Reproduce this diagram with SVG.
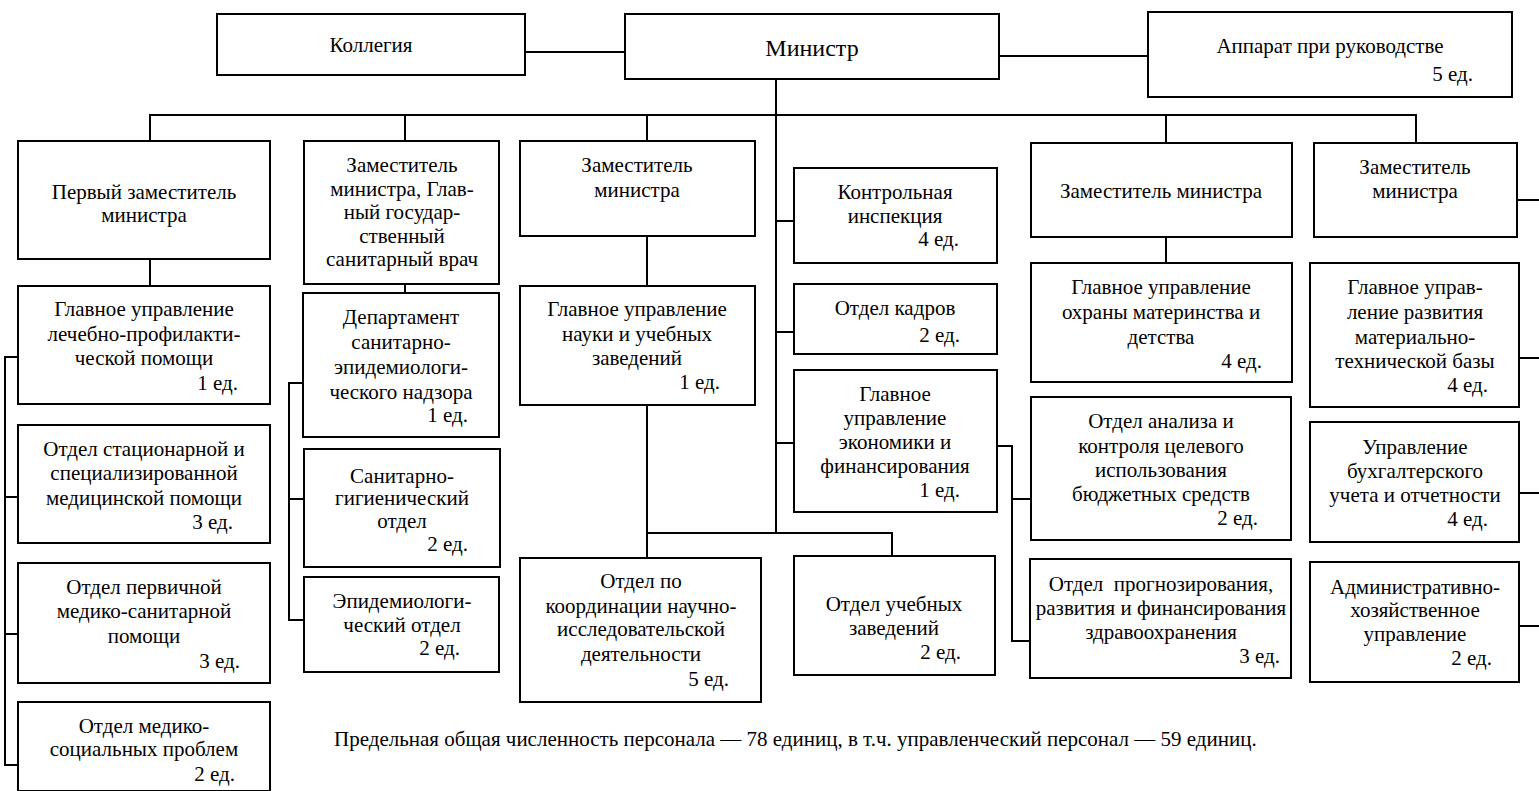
<svg xmlns="http://www.w3.org/2000/svg" width="1539" height="791" viewBox="0 0 1539 791">
<style>
rect{fill:#fff;stroke:#000;stroke-width:2}
text{font-family:"Liberation Serif","Times New Roman","DejaVu Serif",serif;font-size:21px;fill:#000;text-anchor:middle}
text.e{text-anchor:end}
text.s{text-anchor:start}
#connectors line{stroke:#000;stroke-width:2}
</style>
<rect x="0" y="0" width="1539" height="791" style="fill:#fff;stroke:none"/>
<g id="connectors">
<line x1="525" y1="52" x2="625" y2="52"/>
<line x1="999" y1="56" x2="1148" y2="56"/>
<line x1="776" y1="79" x2="776" y2="534"/>
<line x1="149" y1="115" x2="1417" y2="115"/>
<line x1="150" y1="115" x2="150" y2="141"/>
<line x1="405" y1="115" x2="405" y2="141"/>
<line x1="647" y1="115" x2="647" y2="141"/>
<line x1="1166" y1="115" x2="1166" y2="143"/>
<line x1="1416" y1="115" x2="1416" y2="143"/>
<line x1="150" y1="259" x2="150" y2="286"/>
<line x1="405" y1="284" x2="405" y2="293"/>
<line x1="647" y1="236" x2="647" y2="286"/>
<line x1="1166" y1="237" x2="1166" y2="263"/>
<line x1="5" y1="356" x2="5" y2="766"/>
<line x1="4" y1="357" x2="18" y2="357"/>
<line x1="4" y1="497" x2="18" y2="497"/>
<line x1="4" y1="634" x2="18" y2="634"/>
<line x1="4" y1="765" x2="18" y2="765"/>
<line x1="289" y1="382" x2="289" y2="621"/>
<line x1="288" y1="383" x2="303" y2="383"/>
<line x1="288" y1="499" x2="304" y2="499"/>
<line x1="288" y1="620" x2="304" y2="620"/>
<line x1="647" y1="405" x2="647" y2="558"/>
<line x1="646" y1="533" x2="893" y2="533"/>
<line x1="892" y1="533" x2="892" y2="556"/>
<line x1="776" y1="221" x2="794" y2="221"/>
<line x1="776" y1="332" x2="794" y2="332"/>
<line x1="776" y1="443" x2="794" y2="443"/>
<line x1="997" y1="446" x2="1013" y2="446"/>
<line x1="1012" y1="445" x2="1012" y2="642"/>
<line x1="1011" y1="499" x2="1031" y2="499"/>
<line x1="1011" y1="641" x2="1030" y2="641"/>
<line x1="1517" y1="200" x2="1539" y2="200"/>
<line x1="1519" y1="358" x2="1539" y2="358"/>
<line x1="1519" y1="493" x2="1539" y2="493"/>
<line x1="1519" y1="626" x2="1539" y2="626"/>
</g>
<g id="kollegia"><rect x="217" y="14" width="308" height="61"/><text x="371" y="52">Коллегия</text></g>
<g id="ministr"><rect x="625" y="14" width="374" height="65"/><text x="812" y="56" style="font-size:24px">Министр</text></g>
<g id="apparat"><rect x="1148" y="12" width="364" height="85"/><text x="1330" y="53">Аппарат при руководстве</text><text class="e" x="1473" y="81">5 ед.</text></g>
<g id="first-deputy"><rect x="18" y="141" width="252" height="118"/><text x="144" y="199">Первый заместитель</text><text x="144" y="222">министра</text></g>
<g id="deputy-sanitary"><rect x="304" y="141" width="195" height="143"/><text x="402" y="172">Заместитель</text><text x="402" y="195.5">министра, Глав-</text><text x="402" y="219">ный государ-</text><text x="402" y="242.5">ственный</text><text x="402" y="266">санитарный врач</text></g>
<g id="deputy-science"><rect x="520" y="141" width="235" height="95"/><text x="637" y="172">Заместитель</text><text x="637" y="197">министра</text></g>
<g id="control"><rect x="794" y="168" width="203" height="95"/><text x="895" y="199">Контрольная</text><text x="895" y="223">инспекция</text><text class="e" x="959" y="246">4 ед.</text></g>
<g id="deputy-maternity"><rect x="1031" y="143" width="261" height="94"/><text x="1161" y="198">Заместитель министра</text></g>
<g id="deputy-material"><rect x="1314" y="143" width="203" height="94"/><text x="1415" y="174">Заместитель</text><text x="1415" y="198">министра</text></g>
<g id="gu-lech"><rect x="18" y="286" width="252" height="118"/><text x="144" y="316">Главное управление</text><text x="144" y="341">лечебно-профилакти-</text><text x="144" y="365">ческой помощи</text><text class="e" x="238" y="390">1 ед.</text></g>
<g id="otd-stac"><rect x="18" y="425" width="252" height="118"/><text x="144" y="456">Отдел стационарной и</text><text x="144" y="480">специализированной</text><text x="144" y="505">медицинской помощи</text><text class="e" x="233" y="529">3 ед.</text></g>
<g id="otd-perv"><rect x="18" y="563" width="252" height="120"/><text x="144" y="594">Отдел первичной</text><text x="144" y="618">медико-санитарной</text><text x="144" y="643">помощи</text><text class="e" x="240" y="668">3 ед.</text></g>
<g id="otd-medsoc"><rect x="18" y="702" width="252" height="89"/><text x="144" y="733">Отдел медико-</text><text x="144" y="756">социальных проблем</text><text class="e" x="235" y="781">2 ед.</text></g>
<g id="dep-san"><rect x="303" y="293" width="196" height="144"/><text x="401" y="324">Департамент</text><text x="401" y="349">санитарно-</text><text x="401" y="374">эпидемиологи-</text><text x="401" y="399">ческого надзора</text><text class="e" x="468" y="422">1 ед.</text></g>
<g id="san-gig"><rect x="304" y="449" width="196" height="118"/><text x="402" y="483">Санитарно-</text><text x="402" y="505">гигиенический</text><text x="402" y="528">отдел</text><text class="e" x="468" y="551">2 ед.</text></g>
<g id="epid"><rect x="304" y="577" width="195" height="95"/><text x="402" y="608">Эпидемиологи-</text><text x="402" y="632">ческий отдел</text><text class="e" x="460" y="655">2 ед.</text></g>
<g id="gu-nauki"><rect x="520" y="286" width="235" height="119"/><text x="637" y="316">Главное управление</text><text x="637" y="341">науки и учебных</text><text x="637" y="365">заведений</text><text class="e" x="720" y="389">1 ед.</text></g>
<g id="otd-koord"><rect x="520" y="558" width="241" height="144"/><text x="641" y="588">Отдел по</text><text x="641" y="613">координации научно-</text><text x="641" y="636">исследовательской</text><text x="641" y="661">деятельности</text><text class="e" x="729" y="686">5 ед.</text></g>
<g id="otd-ucheb"><rect x="794" y="556" width="201" height="119"/><text x="894" y="611">Отдел учебных</text><text x="894" y="635">заведений</text><text class="e" x="961" y="659">2 ед.</text></g>
<g id="otd-kadrov"><rect x="794" y="284" width="203" height="70"/><text x="895" y="315">Отдел кадров</text><text class="e" x="960" y="342">2 ед.</text></g>
<g id="gu-econ"><rect x="794" y="370" width="203" height="142"/><text x="895" y="401">Главное</text><text x="895" y="425">управление</text><text x="895" y="449">экономики и</text><text x="895" y="473">финансирования</text><text class="e" x="960" y="497">1 ед.</text></g>
<g id="gu-ohrany"><rect x="1031" y="263" width="261" height="119"/><text x="1161" y="294">Главное управление</text><text x="1161" y="319">охраны материнства и</text><text x="1161" y="344">детства</text><text class="e" x="1262" y="368">4 ед.</text></g>
<g id="otd-analiza"><rect x="1031" y="397" width="260" height="143"/><text x="1161" y="428">Отдел анализа и</text><text x="1161" y="453">контроля целевого</text><text x="1161" y="477">использования</text><text x="1161" y="501">бюджетных средств</text><text class="e" x="1258" y="525">2 ед.</text></g>
<g id="otd-prognoz"><rect x="1030" y="559" width="261" height="119"/><text x="1161" y="591" xml:space="preserve">Отдел  прогнозирования,</text><text x="1161" y="615">развития и финансирования</text><text x="1161" y="639">здравоохранения</text><text class="e" x="1280" y="663">3 ед.</text></g>
<g id="gu-razv"><rect x="1310" y="263" width="209" height="144"/><text x="1415" y="294">Главное управ-</text><text x="1415" y="319">ление развития</text><text x="1415" y="344">материально-</text><text x="1415" y="368">технической базы</text><text class="e" x="1488" y="392">4 ед.</text></g>
<g id="upr-buh"><rect x="1310" y="422" width="209" height="120"/><text x="1415" y="454">Управление</text><text x="1415" y="478">бухгалтерского</text><text x="1415" y="502">учета и отчетности</text><text class="e" x="1488" y="526">4 ед.</text></g>
<g id="ahu"><rect x="1310" y="562" width="209" height="120"/><text x="1415" y="594">Административно-</text><text x="1415" y="617">хозяйственное</text><text x="1415" y="641">управление</text><text class="e" x="1492" y="665">2 ед.</text></g>
<text class="s" x="334" y="746">Предельная общая численность персонала — 78 единиц, в т.ч. управленческий персонал — 59 единиц.</text>
</svg>
